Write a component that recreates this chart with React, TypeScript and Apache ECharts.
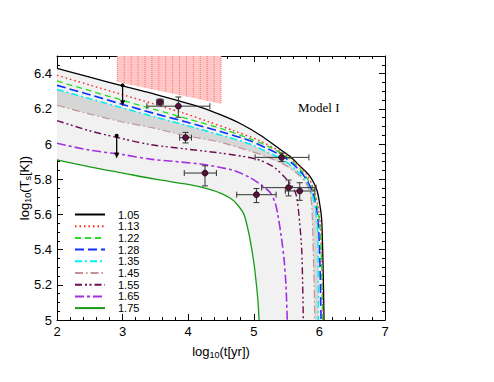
import React, { useEffect, useRef } from "react";
import * as echarts from "echarts";

const FONT = "'Liberation Sans', Arial, sans-serif";

const legendLabels = ["1.05", "1.13", "1.22", "1.28", "1.35", "1.45", "1.55", "1.65", "1.75"];

const curve105 = [[2, 6.43], [2.5, 6.38], [3, 6.33], [3.42, 6.29], [4.18, 6.21], [4.5, 6.165], [4.8, 6.115], [5.1, 6.05], [5.4, 5.97], [5.55, 5.93], [5.7, 5.876], [5.86, 5.815], [5.96, 5.74], [6.01, 5.647], [6.035, 5.57], [6.05, 5.4], [6.062, 5.2], [6.07, 5.0]];
const curve113 = [[2, 6.39], [2.5, 6.335], [3, 6.28], [3.5, 6.225], [3.93, 6.175], [4.3, 6.128], [4.69, 6.076], [5.09, 6.019], [5.45, 5.945], [5.65, 5.89], [5.8, 5.83], [5.9, 5.755], [5.97, 5.66], [6.015, 5.54], [6.04, 5.3], [6.055, 5.1], [6.06, 5.0]];
const curve122 = [[2, 6.358], [2.5, 6.303], [3, 6.248], [3.5, 6.195], [4, 6.142], [4.5, 6.088], [4.94, 6.03], [5.2, 5.99], [5.45, 5.94], [5.65, 5.88], [5.8, 5.812], [5.9, 5.738], [5.97, 5.64], [6.01, 5.52], [6.035, 5.3], [6.045, 5.1], [6.05, 5.0]];
const curve128 = [[2, 6.333], [2.5, 6.28], [3, 6.225], [3.5, 6.172], [4, 6.122], [4.5, 6.07], [4.94, 6.019], [5.2, 5.975], [5.45, 5.928], [5.65, 5.868], [5.8, 5.80], [5.9, 5.72], [5.96, 5.62], [5.99, 5.5], [6.01, 5.3], [6.02, 5.1], [6.025, 5.0]];
const curve135 = [[2, 6.31], [2.5, 6.257], [3, 6.205], [3.5, 6.153], [4, 6.103], [4.5, 6.05], [4.94, 6.0], [5.2, 5.955], [5.45, 5.91], [5.65, 5.85], [5.8, 5.78], [5.9, 5.70], [5.95, 5.6], [5.975, 5.5], [5.982, 5.3], [5.985, 5.0]];
const curve145 = [[2, 6.22], [2.5, 6.17], [3, 6.125], [3.42, 6.095], [3.93, 6.05], [4.49, 6.01], [4.94, 5.96], [5.25, 5.92], [5.5, 5.875], [5.7, 5.82], [5.8, 5.775], [5.86, 5.72], [5.89, 5.6], [5.905, 5.4], [5.92, 5.2], [5.93, 5.0]];
const curve155 = [[2, 6.133], [2.5, 6.075], [3, 6.03], [3.42, 5.997], [4, 5.97], [4.5, 5.948], [5.04, 5.914], [5.3, 5.87], [5.5, 5.80], [5.6, 5.75], [5.65, 5.705], [5.69, 5.59], [5.73, 5.40], [5.745, 5.2], [5.755, 5.0]];
const curve165 = [[2, 6.004], [2.5, 5.965], [3, 5.94], [3.42, 5.914], [4.18, 5.886], [4.69, 5.85], [4.94, 5.81], [5.1, 5.77], [5.25, 5.724], [5.33, 5.66], [5.37, 5.59], [5.42, 5.47], [5.46, 5.35], [5.49, 5.2], [5.51, 5.0]];
const curve175 = [[2, 5.91], [2.5, 5.87], [3, 5.835], [3.5, 5.8], [4, 5.77], [4.3, 5.745], [4.5, 5.72], [4.65, 5.69], [4.75, 5.655], [4.85, 5.6], [4.92, 5.5], [4.97, 5.4], [5.01, 5.3], [5.04, 5.2], [5.065, 5.1], [5.08, 5.0]];

const curves = [curve105, curve113, curve122, curve128, curve135, curve145, curve155, curve165, curve175];
const curveColors = ["#000000", "#ff2020", "#22dd22", "#1030ff", "#00f0f0", "#c49494", "#6e0c52", "#a030e0", "#179b17"];
const curveDash: any[] = ["solid", [1.5, 3], [6, 4], [9, 4], [7, 3, 2, 3], [8, 3, 1.5, 3], [7, 3, 2, 2.5, 2, 3], [9, 3, 3, 3], "solid"];
const curveWidth = [1.3, 1.4, 1.3, 1.6, 1.5, 1.2, 1.4, 1.6, 1.3];

// observations: x, y, xLow, xHigh, yLow, yHigh
const obsX = [3.57, 3.85, 3.96, 4.256, 5.04, 5.425, 5.53, 5.70];
const obsY = [6.238, 6.215, 6.036, 5.835, 5.712, 5.924, 5.752, 5.733];
const obsXLo = [3.52, 3.37, 3.87, 3.94, 4.74, 5.02, 5.12, 5.48];
const obsXHi = [3.62, 4.33, 4.05, 4.43, 5.34, 5.84, 5.95, 5.93];
const obsYLo = [6.222, 6.152, 6.006, 5.762, 5.667, 5.90, 5.705, 5.68];
const obsYHi = [6.255, 6.267, 6.066, 5.876, 5.747, 5.948, 5.795, 5.78];

// upper limits
const limX = [3.0, 2.91];
const limTop = [6.333, 6.047];
const limBottom = [6.22, 5.924];

// hatched region
const pinkX = [2.92, 4.5];
const pinkTop = 6.5;
const pinkBottom = [6.352, 6.229];

const xTicks = { min: 2, max: 7, interval: 1 };
const yTicks = { min: 5, max: 6.5, interval: 0.2 };

function fillBetween(upper: number[][], lower: number[][], fill: string) {
  return (_p: any, api: any) => {
    const pts = upper.map((p) => api.coord(p)).concat(lower.slice().reverse().map((p) => api.coord(p)));
    return { type: "polygon", shape: { points: pts }, style: { fill }, silent: true };
  };
}

export default function App() {
  const ref = useRef<HTMLDivElement>(null);
  useEffect(() => {
    if (!ref.current) return;
    const chart = echarts.init(ref.current, undefined, { renderer: "svg" });

    const axisLine = { show: true, onZero: false, lineStyle: { color: "#000", width: 1 } };
    const axisTick = { show: true, inside: true, length: 6, lineStyle: { color: "#000", width: 1 } };
    const rich: any = {
      n: { fontSize: 13, lineHeight: 14, verticalAlign: "top", fontFamily: FONT, color: "#000" },
      s: { fontSize: 9, lineHeight: 5, verticalAlign: "bottom", fontFamily: FONT, color: "#000" },
    };

    const lineSeries = legendLabels.map((name, i) => ({
      name,
      type: "line",
      data: curves[i],
      symbol: "none",
      smooth: 0.3,
      clip: true,
      lineStyle: { color: curveColors[i], width: curveWidth[i], type: curveDash[i] },
      itemStyle: { color: curveColors[i] },
      z: 3,
    }));

    const option: any = {
      animation: false,
      backgroundColor: "#fff",
      grid: { left: 57, right: 109, top: 56, bottom: 62 },
      legend: {
        data: legendLabels,
        orient: "vertical",
        left: 74,
        top: 209,
        padding: 0,
        itemWidth: 30,
        itemHeight: 10,
        itemGap: 0.7,
        selectedMode: false,
        itemStyle: { opacity: 0 },
        textStyle: { fontSize: 11, lineHeight: 11, color: "#000", fontFamily: FONT, padding: [0, 0, 0, 8] },
      },
      xAxis: [
        {
          type: "value",
          position: "bottom",
          ...xTicks,
          axisLine,
          axisTick,
          minorTick: { show: true, splitNumber: 5, length: 3, lineStyle: { color: "#000" } },
          splitLine: { show: false },
          axisLabel: { color: "#000", fontSize: 13, fontFamily: FONT, margin: 5 },
          name: "{n|log}{s|10}{n|(t[yr])}",
          nameLocation: "middle",
          nameGap: 25,
          nameTextStyle: { rich },
        },
        {
          type: "value",
          position: "top",
          ...xTicks,
          axisLine,
          axisTick,
          minorTick: { show: true, splitNumber: 5, length: 3, lineStyle: { color: "#000" } },
          splitLine: { show: false },
          axisLabel: { show: false },
        },
      ],
      yAxis: [
        {
          type: "value",
          position: "left",
          ...yTicks,
          axisLine,
          axisTick,
          minorTick: { show: true, splitNumber: 4, length: 3, lineStyle: { color: "#000" } },
          splitLine: { show: false },
          axisLabel: { color: "#000", fontSize: 13, fontFamily: FONT, margin: 5, showMaxLabel: false },
        },
        {
          type: "value",
          position: "right",
          ...yTicks,
          axisLine,
          axisTick,
          minorTick: { show: true, splitNumber: 4, length: 3, lineStyle: { color: "#000" } },
          splitLine: { show: false },
          axisLabel: { show: false },
        },
      ],
      graphic: [
        {
          type: "text",
          left: 298,
          top: 101,
          style: { text: "Model I", fontFamily: "'Liberation Serif', 'Times New Roman', serif", fontSize: 13, fill: "#000" },
        },
        {
          type: "text",
          x: 25,
          y: 188,
          rotation: Math.PI / 2,
          style: {
            text: "{n|log}{s|10}{n|(T}{s|s}{n|[K])}",
            rich,
            align: "center",
            verticalAlign: "middle",
            fontFamily: FONT,
            fontSize: 13,
            fill: "#000",
          },
        },
      ],
      series: [
        {
          name: "envelope",
          type: "custom",
          data: [[2, 5]],
          encode: { x: 0, y: 1 },
          clip: true,
          z: 1,
          renderItem: fillBetween(curve105, curve175, "#f1f1f1"),
        },
        {
          name: "band",
          type: "custom",
          data: [[2, 5]],
          encode: { x: 0, y: 1 },
          clip: true,
          z: 1,
          renderItem: fillBetween(curve135, curve145, "#d6d6d6"),
        },
        ...lineSeries,
        {
          name: "hatch",
          type: "custom",
          data: [[pinkX[0], pinkBottom[0], pinkX[1], pinkBottom[1]]],
          encode: { x: [0, 2], y: [1, 3] },
          clip: true,
          z: 4,
          renderItem: (_p: any, api: any) => {
            const tl = api.coord([pinkX[0], pinkTop]);
            const tr = api.coord([pinkX[1], pinkTop]);
            const br = api.coord([pinkX[1], pinkBottom[1]]);
            const bl = api.coord([pinkX[0], pinkBottom[0]]);
            const children: any[] = [
              { type: "polygon", shape: { points: [tl, tr, br, bl] }, style: { fill: "#ffc6c6" } },
            ];
            const w = tr[0] - tl[0];
            const n = Math.round(w / 7);
            for (let k = 0; k <= n; k++) {
              const x = tl[0] + (w * k) / n;
              const yb = bl[1] + ((br[1] - bl[1]) * k) / n;
              children.push({
                type: "line",
                shape: { x1: x, y1: tl[1], x2: x, y2: yb },
                style: { stroke: "#ff6e6e", lineWidth: 1, lineDash: [1, 1] },
              });
            }
            return { type: "group", children, silent: true };
          },
        },
        {
          name: "limits",
          type: "custom",
          data: limX.map((x, i) => [x, limTop[i], limBottom[i]]),
          encode: { x: 0, y: [1, 2] },
          clip: true,
          z: 5,
          renderItem: (_p: any, api: any) => {
            const t = api.coord([api.value(0), api.value(1)]);
            const b = api.coord([api.value(0), api.value(2)]);
            return {
              type: "group",
              children: [
                { type: "line", shape: { x1: t[0], y1: t[1], x2: b[0], y2: b[1] - 3 }, style: { stroke: "#000", lineWidth: 1.3 } },
                { type: "circle", shape: { cx: t[0], cy: t[1], r: 2 }, style: { fill: "#000" } },
                { type: "polygon", shape: { points: [[b[0] - 2.5, b[1] - 5], [b[0] + 2.5, b[1] - 5], [b[0], b[1] + 1]] }, style: { fill: "#000" } },
              ],
            };
          },
        },
        {
          name: "observations",
          type: "custom",
          data: obsX.map((x, i) => [x, obsY[i], obsXLo[i], obsXHi[i], obsYLo[i], obsYHi[i]]),
          encode: { x: [0, 2, 3], y: [1, 4, 5] },
          clip: true,
          z: 6,
          renderItem: (_p: any, api: any) => {
            const x = api.value(0);
            const y = api.value(1);
            const c = api.coord([x, y]);
            const l = api.coord([api.value(2), y]);
            const r = api.coord([api.value(3), y]);
            const lo = api.coord([x, api.value(4)]);
            const hi = api.coord([x, api.value(5)]);
            const cap = 3;
            const st = { stroke: "#333", lineWidth: 1 };
            return {
              type: "group",
              children: [
                { type: "line", shape: { x1: l[0], y1: c[1], x2: r[0], y2: c[1] }, style: st },
                { type: "line", shape: { x1: l[0], y1: c[1] - cap, x2: l[0], y2: c[1] + cap }, style: st },
                { type: "line", shape: { x1: r[0], y1: c[1] - cap, x2: r[0], y2: c[1] + cap }, style: st },
                { type: "line", shape: { x1: c[0], y1: lo[1], x2: c[0], y2: hi[1] }, style: st },
                { type: "line", shape: { x1: c[0] - cap, y1: lo[1], x2: c[0] + cap, y2: lo[1] }, style: st },
                { type: "line", shape: { x1: c[0] - cap, y1: hi[1], x2: c[0] + cap, y2: hi[1] }, style: st },
                { type: "circle", shape: { cx: c[0], cy: c[1], r: 3 }, style: { fill: "#5a0f3c", stroke: "#111", lineWidth: 0.8 } },
              ],
            };
          },
        },
      ],
    };
    chart.setOption(option);
    return () => chart.dispose();
  }, []);
  return <div ref={ref} style={{ position: "absolute", left: 0, top: 0, width: 494, height: 382 }} />;
}
